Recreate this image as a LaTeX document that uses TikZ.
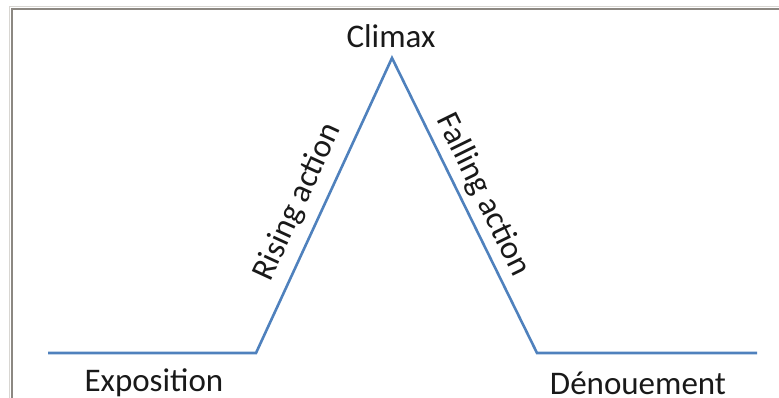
\documentclass[tikz,border=0pt]{standalone}
\usepackage{fontspec}
\setmainfont{Carlito}
\usetikzlibrary{calc}
\definecolor{plotblue}{HTML}{4F81BD}
\definecolor{framegray}{HTML}{8C8882}
\definecolor{frameshade}{HTML}{D8D6D2}
\tikzset{
  arc/.style={draw=plotblue, line width=2.6pt, line join=miter},
  lbl/.style={inner sep=0pt, font=\fontsize{33}{38}\selectfont, text=black!90},
}
\begin{document}
\begin{tikzpicture}[x=1pt,y=1pt]
  \useasboundingbox (0,0) rectangle (779,398);
  % page frame with its soft outer edge
  \draw[frameshade, line width=1.5pt] (9.5,0) -- (9.5,391.5) -- (779,391.5);
  \draw[framegray, line width=2pt] (12,0) -- (12,389) -- (779,389);
  % turning points of the plot
  \coordinate (expo) at (48,45);
  \coordinate (rise) at (256,45);
  \coordinate (peak) at (392,340);
  \coordinate (fall) at (537,45);
  \coordinate (end)  at (757,45);
  % the plot line
  \draw[arc] (expo) -- (rise) -- (peak) -- (fall) -- (end);
  % labels
  \node[lbl] (climax) at (391,362) {Climax};
  \node[lbl] (exposition) at (154,15) {Exposition};
  \node[lbl] (denouement) at (638,15) {Dénouement};
  \node[lbl, rotate=65.25] (rising) at (298,196) {Rising action};
  \node[lbl, rotate=-63.8] (falling) at (483,203) {Falling action};
\end{tikzpicture}
\end{document}
